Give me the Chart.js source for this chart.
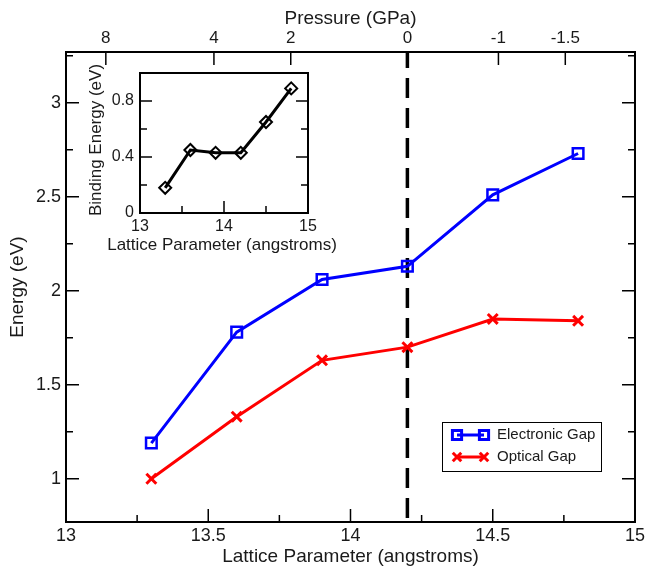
<!DOCTYPE html>
<html>
<head>
<meta charset="utf-8">
<script src="https://cdn.jsdelivr.net/npm/chart.js@4.4.0/dist/chart.umd.min.js"></script>
<style>
    html, body { margin: 0; padding: 0; background: #ffffff; }
    #wrap { position: relative; width: 648px; height: 569px; }
    #grafico_principal { position: absolute; left: 0; top: 0; }
    #grafico_inset { position: absolute; left: 78px; top: 50px; }
</style>
</head>
<body>
<div id="wrap">
    <canvas id="grafico_principal" width="648" height="569"></canvas>
    <canvas id="grafico_inset" width="262" height="208"></canvas>
</div>
<script>
// dados
const lattice = [13.3, 13.6, 13.9, 14.2, 14.5, 14.8];
const electronicGap = [1.19, 1.78, 2.06, 2.13, 2.51, 2.73];
const opticalGap = [1.00, 1.33, 1.63, 1.70, 1.85, 1.84];
const bindingEnergy = [0.18, 0.45, 0.43, 0.43, 0.65, 0.89];
const seriesNames = ['Electronic Gap', 'Optical Gap'];

// eixos
const latticeTicks = [13, 13.5, 14, 14.5, 15];
const latticeMinor = [13.25, 13.75, 14.25, 14.75];
const energyTicks = [1, 1.5, 2, 2.5, 3];
const energyMinor = [1.25, 1.75, 2.25, 2.75, 3.25];
const pressurePos = [13.14, 13.52, 13.79, 14.2, 14.52, 14.755];
const pressureLabels = ['8', '4', '2', '0', '-1', '-1.5'];
const zeroPressure = 14.2;
const insetXTicks = [13, 14, 15];
const insetXMinor = [13.5, 14.5];
const insetYTicks = [0, 0.4, 0.8];
const insetYMinor = [0.2, 0.6];

const energyMin = 0.77, energyMax = 3.27;
const corTexto = '#1a1a1a';
const fonte = '"Liberation Sans", Arial, sans-serif';

function pontos(xs, ys) {
    return xs.map((x, i) => ({ x: x, y: ys[i] }));
}

function fixarTicks(valores) {
    return function(scale) {
        scale.ticks = valores.map(v => ({ value: v }));
    };
}

// desenha os traços para dentro, como no gráfico original
function tracos(ctx, scale, valores, lado, comp, area) {
    valores.forEach(v => {
        const p = scale.getPixelForValue(v);
        ctx.beginPath();
        if (lado === 'bottom') { ctx.moveTo(p, area.bottom); ctx.lineTo(p, area.bottom - comp); }
        if (lado === 'top') { ctx.moveTo(p, area.top); ctx.lineTo(p, area.top + comp); }
        if (lado === 'left') { ctx.moveTo(area.left, p); ctx.lineTo(area.left + comp, p); }
        if (lado === 'right') { ctx.moveTo(area.right, p); ctx.lineTo(area.right - comp, p); }
        ctx.stroke();
    });
}

const molduraPrincipal = {
    id: 'molduraPrincipal',
    afterDraw(chart) {
        const ctx = chart.ctx;
        const a = chart.chartArea;
        ctx.save();
        ctx.strokeStyle = '#000';
        ctx.lineWidth = 1.5;
        tracos(ctx, chart.scales.x, latticeTicks, 'bottom', 13, a);
        tracos(ctx, chart.scales.x, latticeMinor, 'bottom', 7, a);
        tracos(ctx, chart.scales.x2, pressurePos, 'top', 13, a);
        tracos(ctx, chart.scales.y, energyTicks, 'left', 13, a);
        tracos(ctx, chart.scales.y, energyMinor, 'left', 7, a);
        tracos(ctx, chart.scales.y, energyTicks, 'right', 13, a);
        tracos(ctx, chart.scales.y, energyMinor, 'right', 7, a);
        ctx.lineWidth = 2;
        ctx.strokeRect(a.left, a.top, a.right - a.left, a.bottom - a.top);

        // legenda
        ctx.lineWidth = 1;
        ctx.strokeRect(442.5, 422.5, 159, 49);
        ctx.font = '15px ' + fonte;
        ctx.textBaseline = 'middle';
        seriesNames.forEach((nome, i) => {
            const ds = chart.data.datasets[i];
            const y = 435 + i * 22;
            ctx.strokeStyle = ds.borderColor;
            ctx.lineWidth = ds.borderWidth;
            ctx.beginPath();
            ctx.moveTo(457, y);
            ctx.lineTo(484, y);
            ctx.stroke();
            ctx.fillStyle = 'rgba(0,0,0,0)';
            [457, 484].forEach(x => {
                Chart.helpers.drawPoint(ctx, {
                    pointStyle: ds.pointStyle, radius: ds.pointRadius - 1,
                    borderWidth: ds.pointBorderWidth, rotation: 0
                }, x, y);
            });
            ctx.fillStyle = corTexto;
            ctx.fillText(nome, 497, y);
        });
        ctx.restore();
    }
};

const molduraInset = {
    id: 'molduraInset',
    afterDraw(chart) {
        const ctx = chart.ctx;
        const a = chart.chartArea;
        ctx.save();
        ctx.strokeStyle = '#000';
        ctx.lineWidth = 1.5;
        tracos(ctx, chart.scales.x, insetXTicks, 'bottom', 12, a);
        tracos(ctx, chart.scales.x, insetXMinor, 'bottom', 7, a);
        tracos(ctx, chart.scales.y, insetYTicks, 'left', 12, a);
        tracos(ctx, chart.scales.y, insetYMinor, 'left', 7, a);
        tracos(ctx, chart.scales.y, insetYTicks, 'right', 12, a);
        tracos(ctx, chart.scales.y, insetYMinor, 'right', 7, a);
        ctx.lineWidth = 2;
        ctx.strokeRect(a.left, a.top, a.right - a.left, a.bottom - a.top);

        // títulos do inset (mais largos que a área do gráfico)
        ctx.fillStyle = corTexto;
        ctx.font = '17px ' + fonte;
        ctx.textAlign = 'center';
        ctx.textBaseline = 'middle';
        ctx.fillText('Lattice Parameter (angstroms)', (a.left + a.right) / 2 - 2, a.bottom + 32);
        ctx.translate(18, (a.top + a.bottom) / 2 - 3);
        ctx.rotate(-Math.PI / 2);
        ctx.fillText('Binding Energy (eV)', 0, 0);
        ctx.restore();
    }
};

function eixo(extra) {
    return Object.assign({
        type: 'linear',
        grid: { display: false, drawTicks: false },
        border: { display: false }
    }, extra);
}

new Chart(document.getElementById('grafico_principal').getContext('2d'), {
    type: 'scatter',
    data: {
        datasets: [{
            label: seriesNames[0],
            data: pontos(lattice, electronicGap),
            showLine: true,
            borderColor: '#0000ff',
            borderWidth: 3,
            pointStyle: 'rect',
            pointRadius: 7.5,
            pointBorderWidth: 2.5,
            pointBorderColor: '#0000ff',
            pointBackgroundColor: 'rgba(0,0,0,0)'
        }, {
            label: seriesNames[1],
            data: pontos(lattice, opticalGap),
            showLine: true,
            borderColor: '#ff0000',
            borderWidth: 3,
            pointStyle: 'crossRot',
            pointRadius: 7,
            pointBorderWidth: 3,
            pointBorderColor: '#ff0000',
            pointBackgroundColor: '#ff0000'
        }, {
            label: 'P = 0',
            data: [{ x: zeroPressure, y: energyMax }, { x: zeroPressure, y: energyMin }],
            showLine: true,
            borderColor: '#000000',
            borderWidth: 3.5,
            borderDash: [20, 10],
            borderDashOffset: 4,
            pointRadius: 0
        }]
    },
    options: {
        responsive: false,
        animation: false,
        events: [],
        layout: { padding: { left: 0, right: 11, top: 0, bottom: 0 } },
        plugins: { legend: { display: false }, tooltip: { enabled: false } },
        scales: {
            x: eixo({
                position: 'bottom', min: 13, max: 15,
                afterBuildTicks: fixarTicks(latticeTicks),
                afterFit: s => { s.height = 47; },
                ticks: {
                    autoSkip: false, maxRotation: 0, padding: 3, color: corTexto,
                    font: { family: fonte, size: 18 },
                    callback: v => String(v)
                },
                title: {
                    display: true, text: 'Lattice Parameter (angstroms)', color: corTexto,
                    font: { family: fonte, size: 19 }, padding: { top: 0, bottom: 1 }
                }
            }),
            x2: eixo({
                position: 'top', min: 13, max: 15,
                afterBuildTicks: fixarTicks(pressurePos),
                afterFit: s => { s.height = 52; },
                ticks: {
                    autoSkip: false, maxRotation: 0, padding: 3, color: corTexto,
                    font: { family: fonte, size: 17 },
                    callback: (v, i) => pressureLabels[i]
                },
                title: {
                    display: true, text: 'Pressure (GPa)', color: corTexto,
                    font: { family: fonte, size: 19 }, padding: { top: 7, bottom: 0 }
                }
            }),
            y: eixo({
                position: 'left', min: energyMin, max: energyMax,
                afterBuildTicks: fixarTicks(energyTicks),
                afterFit: s => { s.width = 66; },
                ticks: {
                    autoSkip: false, padding: 5, color: corTexto,
                    font: { family: fonte, size: 18 },
                    callback: v => String(v)
                },
                title: {
                    display: true, text: 'Energy (eV)', color: corTexto,
                    font: { family: fonte, size: 19 }, padding: { top: 6, bottom: 0 }
                }
            })
        }
    },
    plugins: [molduraPrincipal]
});

new Chart(document.getElementById('grafico_inset').getContext('2d'), {
    type: 'scatter',
    data: {
        datasets: [{
            label: 'Binding Energy',
            data: pontos(lattice, bindingEnergy),
            showLine: true,
            borderColor: '#000000',
            borderWidth: 3,
            pointStyle: 'rectRot',
            pointRadius: 6,
            pointBorderWidth: 2,
            pointBorderColor: '#000000',
            pointBackgroundColor: 'rgba(0,0,0,0)'
        }]
    },
    options: {
        responsive: false,
        animation: false,
        events: [],
        layout: { padding: { left: 0, right: 32, top: 23, bottom: 0 } },
        plugins: { legend: { display: false }, tooltip: { enabled: false } },
        scales: {
            x: eixo({
                position: 'bottom', min: 13, max: 15,
                afterBuildTicks: fixarTicks(insetXTicks),
                afterFit: s => { s.height = 45; },
                ticks: {
                    autoSkip: false, maxRotation: 0, padding: 4, color: corTexto,
                    font: { family: fonte, size: 16 },
                    callback: v => String(v)
                }
            }),
            y: eixo({
                position: 'left', min: 0, max: 1,
                afterBuildTicks: fixarTicks(insetYTicks),
                afterFit: s => { s.width = 62; },
                ticks: {
                    autoSkip: false, padding: 6, color: corTexto,
                    font: { family: fonte, size: 16 },
                    callback: v => String(v)
                }
            })
        }
    },
    plugins: [molduraInset]
});
</script>
</body>
</html>
